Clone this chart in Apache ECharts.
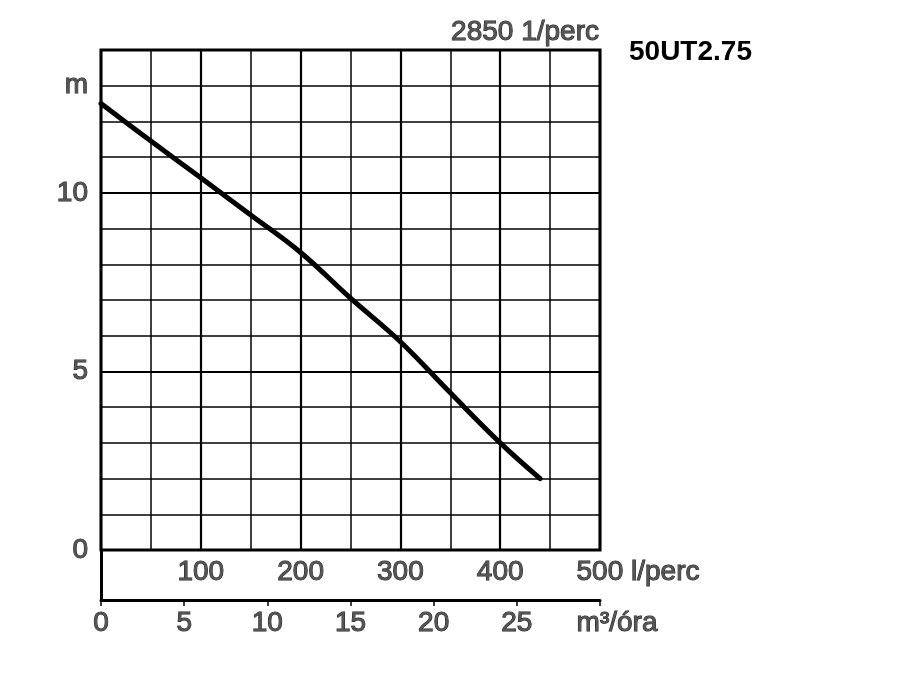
<!DOCTYPE html>
<html>
<head>
<meta charset="utf-8">
<script src="https://cdn.jsdelivr.net/npm/echarts@6/dist/echarts.min.js"></script>
<style>html,body{margin:0;padding:0;background:#fff}#c{width:900px;height:700px}</style>
</head>
<body>
<div id="c"></div>
<script>
// Data
const flowLpm = [0, 50, 100, 150, 200, 250, 300, 350, 400, 440];
const headM   = [12.5, 11.45, 10.42, 9.38, 8.33, 7.05, 5.83, 4.4, 3.0, 2.0];
const lpmTicks = [100, 200, 300, 400];
const lpmUnit = 'l/perc';
const m3hTicks = [0, 5, 10, 15, 20, 25];
const m3hUnit = 'm³/óra';
const headTicks = [0, 5, 10];
const headUnit = 'm';
const speedText = '2850 1/perc';
const modelText = '50UT2.75';

const FONT = 'Liberation Sans, Arial, sans-serif';
const FS = 28;
const TXT = {fontFamily: FONT, fontSize: FS, color: '#555', textBorderColor: '#1a1a1a', textBorderWidth: 1};

const chart = echarts.init(document.getElementById('c'), null, {renderer: 'canvas'});
const option = {
  backgroundColor: '#fff',
  animation: false,
  title: [
    {text: speedText, right: 295, top: 13, textStyle: Object.assign({fontWeight: 'normal'}, TXT)},
    {text: modelText, left: 624, top: 33, textStyle: {fontFamily: FONT, fontSize: FS, fontWeight: 'bold', color: '#000'}}
  ],
  grid: [
    {left: 101, top: 50, width: 499, height: 500, show: true, borderColor: '#000', borderWidth: 3, backgroundColor: 'transparent'},
    {left: 101, top: 550, width: 499, height: 50, show: false}
  ],
  xAxis: [
    {
      gridIndex: 0, type: 'value', min: 0, max: 500, interval: 50, position: 'bottom',
      axisLine: {show: false}, axisTick: {show: false},
      splitLine: {show: true, lineStyle: {color: '#000', width: 1.5}},
      axisLabel: Object.assign({
        margin: 8, showMinLabel: true, showMaxLabel: true,
        formatter: v => v === 500 ? '{u|500 ' + lpmUnit + '}' : (lpmTicks.indexOf(v) >= 0 ? String(v) : ''),
        rich: {u: Object.assign({padding: [0, 0, 0, 76]}, TXT)}
      }, TXT)
    },
    {
      gridIndex: 0, type: 'value', min: 0, max: 500, interval: 100, position: 'top',
      axisLine: {show: false}, axisTick: {show: false}, axisLabel: {show: false},
      splitLine: {show: true, lineStyle: {color: '#000', width: 2.2}}
    },
    {
      gridIndex: 1, type: 'value', min: 0, max: 30, interval: 5, position: 'bottom',
      axisLine: {show: true, lineStyle: {color: '#000', width: 3}},
      axisTick: {show: true, inside: false, length: 6, lineStyle: {color: '#000', width: 1.5}},
      splitLine: {show: false},
      axisLabel: Object.assign({
        margin: 9, showMaxLabel: true,
        formatter: v => v === 30 ? '{u|' + m3hUnit + '}' : (m3hTicks.indexOf(v) >= 0 ? String(v) : ''),
        rich: {u: Object.assign({padding: [0, 0, 0, 34]}, TXT)}
      }, TXT)
    }
  ],
  yAxis: [
    {
      gridIndex: 0, type: 'value', min: 0, max: 14, interval: 1,
      axisLine: {show: false}, axisTick: {show: false},
      splitLine: {show: true, lineStyle: {color: '#000', width: 1.5}},
      axisLabel: Object.assign({
        margin: 13,
        formatter: v => v === 13 ? headUnit : (headTicks.indexOf(v) >= 0 ? String(v) : '')
      }, TXT)
    },
    {
      gridIndex: 0, type: 'value', min: 0, max: 14, interval: 5, position: 'right',
      axisLine: {show: false}, axisTick: {show: false}, axisLabel: {show: false},
      splitLine: {show: true, lineStyle: {color: '#000', width: 2.2}}
    },
    {
      gridIndex: 1, type: 'value', min: 0, max: 1,
      axisLine: {show: true, onZero: false, lineStyle: {color: '#000', width: 3}},
      axisTick: {show: false}, axisLabel: {show: false}, splitLine: {show: false}
    }
  ],
  series: [
    {
      type: 'line', xAxisIndex: 0, yAxisIndex: 0,
      data: flowLpm.map((q, i) => [q, headM[i]]),
      showSymbol: false, smooth: 0.4,
      lineStyle: {color: '#000', width: 5, cap: 'round', join: 'round'},
      z: 10
    }
  ]
};
chart.setOption(option);
</script>
</body>
</html>
